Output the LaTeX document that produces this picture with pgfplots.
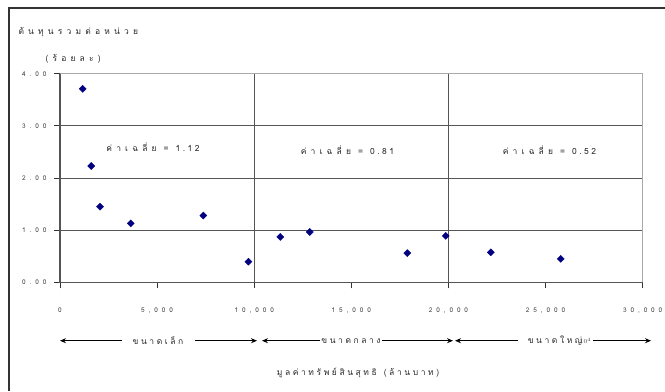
\documentclass[border=0pt]{standalone}
\usepackage{pgfplots}
\pgfplotsset{compat=1.18}
\usepackage{fontspec}
\usetikzlibrary{arrows.meta}
\newfontfamily\thaifont[Script=Thai]{Loma}
\newfontfamily\numfont[LetterSpace=60]{Loma}
\newfontfamily\valfont[LetterSpace=30]{Loma}
\definecolor{navy}{RGB}{0,0,128}
\definecolor{gridgray}{RGB}{85,85,85}
\definecolor{boxgray}{RGB}{170,170,170}
% spaced Thai text: clusters separated by source spaces
\newcommand\thaistyle{\thaifont\fontsize{8.5}{10}\selectfont\spaceskip=4.2bp\relax}
\newcommand\thaitight{\thaifont\fontsize{8.5}{10}\selectfont\spaceskip=2.6bp\relax}
\newcommand\gap{\hspace{7bp}}

\pgfplotstableread{
x y
1170 3.71
1610 2.23
2060 1.45
3640 1.13
7380 1.28
9700 0.395
11340 0.87
12860 0.965
17880 0.56
19860 0.89
22180 0.575
25780 0.45
}\costdata

\begin{document}
\begin{tikzpicture}[x=1bp,y=1bp]
\path[use as bounding box] (0,0) rectangle (665,391);
% outer frame
\draw[line width=1.6bp, black!80] (9,0) -- (9,383) -- (665,383);
\begin{axis}[
  at={(60bp,108.7bp)}, anchor=south west, scale only axis,
  width=582.7bp, height=208.6bp,
  xmin=0, xmax=30000, ymin=0, ymax=4,
  axis line style={boxgray, line width=0.8bp},
  xtick={0,5000,10000,15000,20000,25000,30000},
  xticklabels={0,{5,000},{10,000},{15,000},{20,000},{25,000},{30,000}},
  ytick={0,1,2,3,4},
  yticklabels={0.00,1.00,2.00,3.00,4.00},
  xtick pos=bottom, ytick pos=left,
  tick align=outside, major tick length=6bp,
  tick style={black!80, line width=0.8bp},
  ymajorgrids, grid style={gridgray, line width=0.8bp},
  extra x ticks={10000,20000}, extra x tick labels={},
  extra x tick style={grid=major, major tick length=0pt},
  /pgf/number format/assume math mode=true,
  xticklabel style={font=\numfont\fontsize{6.5}{7}\selectfont, text=black!75, yshift=-16bp},
  yticklabel style={font=\numfont\fontsize{6.5}{7}\selectfont, text=black!75, xshift=-4bp},
  clip=false,
]
\addplot[only marks, mark=square*, mark size=2.5bp,
  mark options={rotate=45, fill=navy, draw=navy}] table[x=x, y=y] {\costdata};
\draw[gridgray, line width=1.3bp] (rel axis cs:0,1) -- (rel axis cs:0,0) -- (rel axis cs:1,0);
\node[font=\thaistyle, text=black!85] at (axis cs:4790,2.59) {ค่ า เ ฉ ลี่ ย\gap=\gap{\valfont 1.12}};
\node[font=\thaistyle, text=black!85] at (axis cs:14800,2.54) {ค่ า เ ฉ ลี่ ย\gap=\gap{\valfont 0.81}};
\node[font=\thaistyle, text=black!85] at (axis cs:25200,2.54) {ค่ า เ ฉ ลี่ ย\gap=\gap{\valfont 0.52}};
\end{axis}
% axis titles
\node[anchor=west, font=\thaistyle, text=black!85] at (15,359) {ต้ น ทุ น ร ว ม ต่ อ ห น่ ว ย};
\node[anchor=west, font=\thaistyle, text=black!85] at (42,332) {( ร้ อ ย ล ะ )};
\node[font=\thaitight, text=black!85] at (358,18) {มู ล ค่ า ท รั พ ย์ สิ น สุ ท ธิ\gap( ล้ า น บ า ท )};
% size classes
\begin{scope}[line width=0.8bp, black, -{Stealth[length=6bp,width=5bp]}]
\draw (122,50.3) -- (60,50.3);
\draw (195,50.3) -- (257,50.3);
\draw (320,50.3) -- (262,50.3);
\draw (382,50.3) -- (453,50.3);
\draw (518,50.3) -- (455,50.3);
\draw (593,50.3) -- (651,50.3);
\end{scope}
\node[font=\thaitight, text=black!85] at (158,50.3) {ข น า ด เ ล็ ก};
\node[font=\thaitight, text=black!85] at (351,50.3) {ข น า ด ก ล า ง};
\node[font=\thaitight, text=black!85] at (555,50.3) {ข น า ด ใ ห ญ่};
\end{tikzpicture}
\end{document}
